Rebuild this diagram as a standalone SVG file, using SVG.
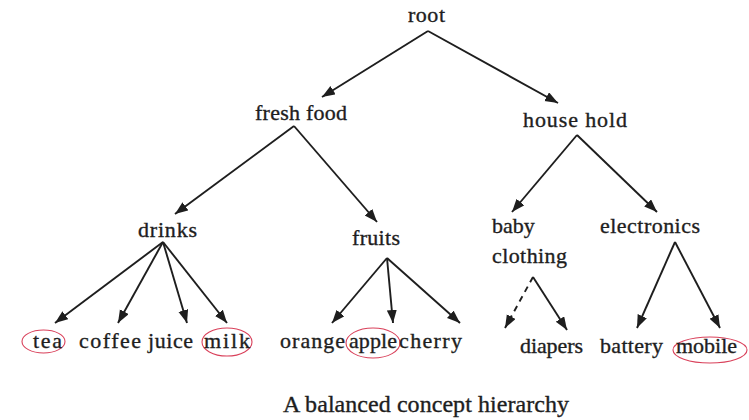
<svg xmlns="http://www.w3.org/2000/svg" width="749" height="420" viewBox="0 0 749 420">
  <style>
    text { font-family: 'Liberation Serif', Tinos, 'Times New Roman', Times, serif; fill: #1e1e1e; stroke: #1e1e1e; stroke-width: 0.35; }
    .lbl { font-size: 22px; }
    .cap { font-size: 24px; }
    .edge { stroke: #1e1e1e; stroke-width: 1.9; fill: none; marker-end: url(#arrow); }
    .dash { stroke-dasharray: 6 5; }
    .mark { fill: none; stroke: #d9405a; stroke-width: 1.1; }
  </style>
  <defs>
    <marker id="arrow" markerUnits="userSpaceOnUse" markerWidth="14" markerHeight="11" refX="13" refY="5" orient="auto">
      <path d="M0,0 L13,5 L0,10 Z" fill="#1e1e1e"/>
    </marker>
  </defs>
  <rect width="749" height="420" fill="#fff"/>

  <g id="connectors">
    <line class="edge" x1="428" y1="31" x2="322" y2="97"/>
    <line class="edge" x1="428" y1="31" x2="558" y2="103"/>
    <line class="edge" x1="294" y1="126" x2="175" y2="214"/>
    <line class="edge" x1="294" y1="126" x2="377" y2="222"/>
    <line class="edge" x1="163" y1="242" x2="55" y2="323"/>
    <line class="edge" x1="163" y1="242" x2="118" y2="323"/>
    <line class="edge" x1="163" y1="242" x2="187" y2="323"/>
    <line class="edge" x1="163" y1="242" x2="227" y2="323"/>
    <line class="edge" x1="387" y1="258" x2="332" y2="323"/>
    <line class="edge" x1="387" y1="258" x2="393" y2="323"/>
    <line class="edge" x1="387" y1="258" x2="460" y2="323"/>
    <line class="edge" x1="577" y1="135" x2="512" y2="212"/>
    <line class="edge" x1="577" y1="135" x2="657" y2="212"/>
    <line class="edge dash" x1="533" y1="277" x2="505" y2="328"/>
    <line class="edge" x1="533" y1="277" x2="567" y2="330"/>
    <line class="edge" x1="675" y1="242" x2="637" y2="328"/>
    <line class="edge" x1="675" y1="242" x2="720" y2="328"/>
  </g>

  <g id="root"><text class="lbl" x="408" y="22" textLength="37">root</text></g>
  <g id="fresh-food"><text class="lbl" x="255" y="120" textLength="92">fresh food</text></g>
  <g id="house-hold"><text class="lbl" x="523" y="127" textLength="104">house hold</text></g>
  <g id="drinks"><text class="lbl" x="138" y="237" textLength="59">drinks</text></g>
  <g id="fruits"><text class="lbl" x="352" y="245" textLength="48">fruits</text></g>
  <g id="baby-clothing">
    <text class="lbl" x="492" y="233">baby</text>
    <text class="lbl" x="492" y="263" textLength="75">clothing</text>
  </g>
  <g id="electronics"><text class="lbl" x="600" y="233" textLength="100">electronics</text></g>

  <g id="tea">
    <ellipse class="mark" cx="43.5" cy="341.5" rx="21.5" ry="11.5"/>
    <text class="lbl" x="33" y="348" textLength="29">tea</text>
  </g>
  <g id="coffee"><text class="lbl" x="79" y="348" textLength="62">coffee</text></g>
  <g id="juice"><text class="lbl" x="148" y="348" textLength="45">juice</text></g>
  <g id="milk">
    <ellipse class="mark" cx="227" cy="342" rx="25" ry="14"/>
    <text class="lbl" x="204" y="348" textLength="46">milk</text>
  </g>
  <g id="orange"><text class="lbl" x="280" y="348" textLength="65">orange</text></g>
  <g id="apple">
    <ellipse class="mark" cx="373" cy="343" rx="27" ry="15"/>
    <text class="lbl" x="349" y="348" textLength="48">apple</text>
  </g>
  <g id="cherry"><text class="lbl" x="399" y="348" textLength="63">cherry</text></g>
  <g id="diapers"><text class="lbl" x="520" y="353" textLength="63">diapers</text></g>
  <g id="battery"><text class="lbl" x="600" y="353" textLength="63">battery</text></g>
  <g id="mobile">
    <ellipse class="mark" cx="710" cy="350" rx="37" ry="13"/>
    <text class="lbl" x="676" y="353" textLength="61">mobile</text>
  </g>

  <text class="cap" x="283" y="412" textLength="286">A balanced concept hierarchy</text>
</svg>
